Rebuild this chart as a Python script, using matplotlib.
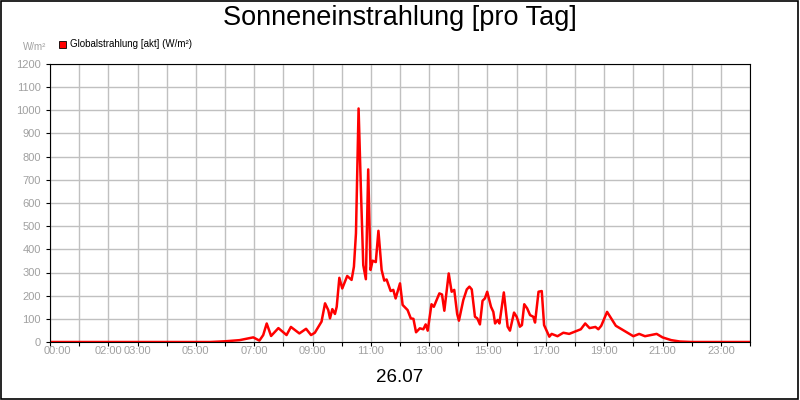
import matplotlib.pyplot as plt
import matplotlib.patches as mpatches

plt.rcParams['font.family'] = ['Liberation Sans', 'DejaVu Sans']

# === DATA (hour of day, W/m²) ===
hours = [0, 5.5, 6.0, 6.5, 6.97, 7.18, 7.31, 7.43, 7.58, 7.83, 8.11, 8.26, 8.55, 8.78, 8.95,
         9.08, 9.31, 9.43, 9.54, 9.6, 9.68, 9.77, 9.83, 9.92, 10.02, 10.19, 10.34, 10.42,
         10.49, 10.58, 10.66, 10.74, 10.83, 10.91, 10.99, 11.06, 11.17, 11.26, 11.37, 11.46,
         11.54, 11.68, 11.77, 11.85, 12.0, 12.09, 12.26, 12.37, 12.46, 12.55, 12.68, 12.8,
         12.88, 12.95, 13.08, 13.16, 13.35, 13.44, 13.52, 13.67, 13.77, 13.86, 13.96, 14.02,
         14.17, 14.29, 14.38, 14.46, 14.57, 14.65, 14.74, 14.83, 14.91, 14.99, 15.12, 15.2,
         15.26, 15.35, 15.41, 15.56, 15.69, 15.77, 15.91, 16.0, 16.11, 16.18, 16.26, 16.36,
         16.46, 16.57, 16.63, 16.75, 16.86, 16.94, 17.12, 17.2, 17.4, 17.6, 17.8, 18.0, 18.2,
         18.35, 18.5, 18.7, 18.8, 18.9, 19.0, 19.1, 19.25, 19.4, 19.6, 19.8, 20.0, 20.2,
         20.4, 20.6, 20.8, 21.0, 21.3, 21.6, 22.0, 24.0]
radiation = [0, 0, 3, 8, 20, 6, 30, 80, 26, 60, 30, 65, 37, 57, 30,
             40, 88, 167, 138, 102, 142, 121, 152, 277, 231, 285, 268, 325,
             469, 1008, 656, 332, 271, 745, 311, 351, 345, 480, 311, 265,
             270, 220, 225, 188, 253, 160, 138, 102, 100, 42, 59, 55,
             76, 49, 163, 152, 210, 205, 135, 296, 217, 225, 121, 92,
             181, 227, 239, 227, 109, 102, 76, 178, 188, 217, 152, 130,
             80, 95, 80, 214, 66, 49, 127, 109, 66, 73, 163, 145,
             116, 109, 84, 217, 220, 73, 23, 35, 25, 40, 35, 45, 55,
             80, 60, 65, 55, 70, 100, 130, 100, 70, 55, 40, 25, 35,
             25, 30, 35, 20, 8, 2, 0, 0]

tick_pos = [0, 2, 3, 5, 7, 9, 11, 13, 15, 17, 19, 21, 23]
tick_labels = ["00:00", "02:00", "03:00", "05:00", "07:00", "09:00", "11:00",
               "13:00", "15:00", "17:00", "19:00", "21:00", "23:00"]

# === PLOT ===
fig = plt.figure(figsize=(8, 4), dpi=100)
fig.patches.append(mpatches.Rectangle((0.001, 0.002), 0.997, 0.996, transform=fig.transFigure,
                                      fill=False, edgecolor="black", linewidth=1.2))
ax = fig.add_axes([50 / 800, 1 - 342 / 400, 700 / 800, 278 / 400])

ax.plot(hours, radiation, color="#ff0000", linewidth=1.8)
ax.set_xlim(0, 24)
ax.set_ylim(0, 1200)
ax.set_xticks(range(0, 25))
ax.set_xticklabels([""] * 25)
for p, lab in zip(tick_pos, tick_labels):
    ax.text(p + (0.25 if p == 0 else 0), -18, lab, ha="center", va="top",
            fontsize=8, color="#a0a0a0")
ax.set_yticks(range(0, 1201, 100))
ax.tick_params(axis="y", labelsize=8, labelcolor="#a0a0a0", length=3)
ax.tick_params(axis="x", length=3)
ax.grid(True, color="#c0c0c0", linewidth=1)
for s in ax.spines.values():
    s.set_color("black")

fig.text(0.5, 1 - 18 / 400, "Sonneneinstrahlung [pro Tag]", ha="center", va="center", fontsize=19.5)
fig.text(0.5, 1 - 378 / 400, "26.07", ha="center", va="center", fontsize=13.5)
fig.text(46 / 800, 1 - 47 / 400, "W/m²", ha="right", va="center", fontsize=7, color="#a0a0a0")
fig.patches.append(mpatches.Rectangle((59 / 800, 1 - 48 / 400), 7 / 800, 7 / 400,
                                      transform=fig.transFigure, facecolor="#ff0000",
                                      edgecolor="black", linewidth=0.6))
fig.text(70 / 800, 1 - 44 / 400, "Globalstrahlung [akt] (W/m²)", ha="left", va="center", fontsize=7)

plt.savefig("out.png", dpi=100)
